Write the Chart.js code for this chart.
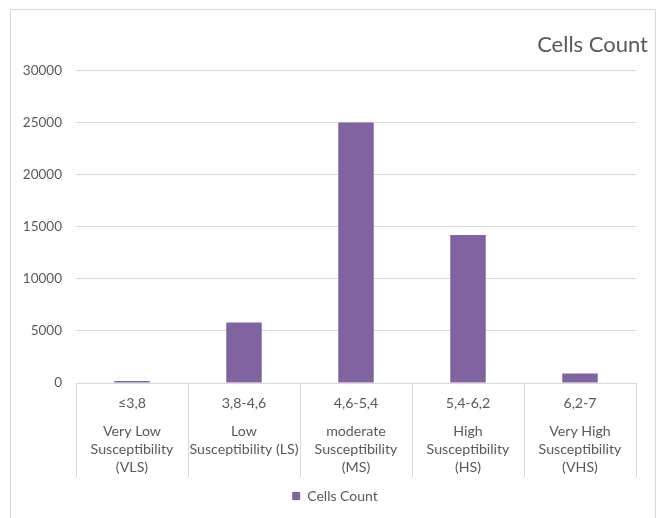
<!DOCTYPE html>
<html><head><meta charset="utf-8">
<script src="https://cdn.jsdelivr.net/npm/chart.js@4/dist/chart.umd.min.js"></script>
<style>
html,body{margin:0;padding:0;background:#fff;}
#wrap{position:relative;width:662px;height:518px;}
#frame{position:absolute;left:10px;top:9px;width:644px;height:520px;border:1px solid #d9d9d9;pointer-events:none;}
canvas{position:absolute;left:0;top:0;}
</style></head>
<body>
<div id="wrap"><canvas id="c" width="662" height="518"></canvas><div id="frame"></div></div>
<script>
const rangeLabels = ["≤3,8", "3,8-4,6", "4,6-5,4", "5,4-6,2", "6,2-7"];
const classLabels = [
  ["Very Low", "Susceptibility", "(VLS)"],
  ["Low", "Susceptibility (LS)"],
  ["moderate", "Susceptibility", "(MS)"],
  ["High", "Susceptibility", "(HS)"],
  ["Very High", "Susceptibility", "(VHS)"]
];
const cellsCount = [200, 5800, 25000, 14200, 900];
const seriesName = "Cells Count";
const yTicks = [0, 5000, 10000, 15000, 20000, 25000, 30000];

const txt = '#595959';
const gridCol = '#d9d9d9';
const fontFam = 'Lato, "Open Sans", sans-serif';

// category separators below the axis, placed with the x scale's own pixels
const separators = {
  id: 'separators',
  afterDraw(chart) {
    const xs = chart.scales.x;
    const x2 = chart.scales.x2;
    const ctx = chart.ctx;
    const n = xs.ticks.length;
    const step = xs.getPixelForValue(1) - xs.getPixelForValue(0);
    const start = xs.getPixelForValue(0) - step / 2;
    ctx.save();
    ctx.strokeStyle = gridCol;
    ctx.lineWidth = 1;
    for (let i = 0; i <= n; i++) {
      const x = Math.round(start + i * step) + 0.5;
      ctx.beginPath();
      ctx.moveTo(x, xs.top);
      ctx.lineTo(x, x2.bottom - 4);
      ctx.stroke();
    }
    ctx.restore();
  }
};

const tickFont = { family: fontFam, size: 14.2, lineHeight: '18px' };

new Chart(document.getElementById('c'), {
  type: 'bar',
  data: {
    labels: rangeLabels,
    datasets: [{
      label: seriesName,
      data: cellsCount,
      backgroundColor: '#8064a2',
      borderWidth: 0,
      categoryPercentage: 1,
      barPercentage: 0.317,
      xAxisID: 'x',
      yAxisID: 'y'
    }]
  },
  options: {
    responsive: false,
    animation: false,
    layout: { padding: { left: 22, right: 14, top: 32, bottom: 5 } },
    plugins: {
      title: {
        display: true, text: seriesName, align: 'end', color: txt,
        font: { family: fontFam, size: 22, weight: 'normal' },
        padding: { top: 0, bottom: 12 }
      },
      legend: {
        position: 'bottom',
        labels: { color: txt, font: { family: fontFam, size: 14 }, boxWidth: 8, boxHeight: 8, padding: 8 }
      },
      tooltip: { enabled: false }
    },
    scales: {
      x: {
        weight: 0,
        grid: { display: false, drawTicks: false },
        border: { display: true, color: gridCol },
        ticks: { color: txt, font: tickFont, padding: 11, maxRotation: 0, autoSkip: false },
        afterFit: (s) => { s.height = 29; }
      },
      x2: {
        type: 'category',
        position: 'bottom',
        weight: 1,
        labels: classLabels,
        offset: true,
        grid: { display: false, drawTicks: false },
        border: { display: false },
        ticks: { color: txt, font: tickFont, padding: 10, maxRotation: 0, autoSkip: false },
        afterFit: (s) => { s.height = 69; }
      },
      y: {
        min: yTicks[0], max: yTicks[yTicks.length - 1],
        afterBuildTicks: (ax) => { ax.ticks = yTicks.map(v => ({ value: v })); },
        grid: { color: gridCol, drawTicks: false },
        border: { display: false },
        ticks: { color: txt, font: { family: fontFam, size: 13.5 }, padding: 14, callback: v => String(v) },
        afterFit: (s) => { s.width = 54; }
      },
      yRight: {
        position: 'right',
        display: true,
        grid: { display: false },
        border: { display: false },
        ticks: { display: false },
        afterFit: (s) => { s.width = 12; }
      }
    }
  },
  plugins: [separators]
});
</script>
</body></html>
